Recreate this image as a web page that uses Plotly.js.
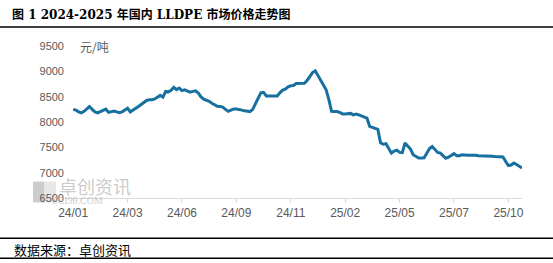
<!DOCTYPE html>
<html>
<head>
<meta charset="utf-8">
<script src="https://cdn.plot.ly/plotly-3.0.1.min.js"></script>
<style>html,body{margin:0;padding:0;background:#fff;}#chart{width:553px;height:263px;}</style>
</head>
<body>
<div id="chart"></div>
<script>
// LLDPE price, yuan/ton, sampled at equal steps along the category axis (20 steps per label interval)
const price = [
8250,8235,8200,8180,8210,8260,8305,8250,8200,8180,
8205,8230,8255,8190,8200,8215,8200,8185,8200,8240,
8270,8200,8230,8260,8305,8345,8380,8425,8440,8440,
8455,8485,8525,8490,8605,8595,8625,8685,8640,8670,
8620,8635,8615,8590,8605,8615,8570,8495,8450,8430,
8410,8370,8335,8310,8305,8295,8250,8210,8235,8255,
8255,8250,8235,8220,8205,8205,8250,8360,8485,8575,
8585,8515,8515,8515,8515,8515,8575,8630,8650,8695,
8715,8720,8760,8765,8765,8765,8820,8905,8975,9010,
8910,8810,8730,8635,8440,8210,8205,8205,8190,8160,
8160,8160,8170,8140,8155,8140,8120,8105,8075,7915,
7900,7880,7855,7590,7560,7570,7485,7385,7425,7445,
7400,7395,7585,7525,7465,7355,7315,7290,7290,7295,
7385,7475,7515,7455,7400,7385,7330,7285,7305,7345,
7375,7335,7335,7355,7345,7345,7345,7350,7345,7335,
7335,7335,7335,7330,7325,7320,7320,7320,7310,7220,
7140,7150,7190,7160,7120,7090
];
const tickLabels = ["24/01","24/03","24/06","24/09","24/11","25/02","25/05","25/07","25/10"];
const labelStep = 20;
const yTicks = [6500,7000,7500,8000,8500,9000,9500];

const xIdx = price.map((_, i) => i);
const tickIdx = tickLabels.map((_, i) => i * labelStep);

// pixel helpers for decorations (plot area: l=65, t=46, w=457, h=152.5)
const L = 65, T = 46, W = 457, H = 152.5;
const px = x => (x - L) / W;
const py = y => (T + H - y) / H;

const trace = {
  x: xIdx, y: price, type: 'scatter', mode: 'lines',
  line: {color: '#17709f', width: 3},
  hoverinfo: 'skip'
};

const layout = {
  width: 553, height: 263,
  margin: {l: L, r: 553 - L - W, t: T, b: 263 - T - H},
  paper_bgcolor: '#fff', plot_bgcolor: 'rgba(0,0,0,0)',
  showlegend: false,
  xaxis: {
    type: 'linear', range: [-3, 165], showgrid: false, zeroline: false,
    showline: true, linecolor: '#d9d9d9', linewidth: 1,
    tickmode: 'array', tickvals: tickIdx, ticktext: tickLabels,
    ticks: 'outside', ticklen: 4, tickcolor: '#d9d9d9',
    tickfont: {family: 'Liberation Sans, Arial, sans-serif', size: 12, color: '#595959'}
  },
  yaxis: {
    range: [6500, 9500], showgrid: false, zeroline: false, showline: false,
    tickmode: 'array', tickvals: yTicks, ticks: '',
    tickfont: {family: 'Liberation Sans, Arial, sans-serif', size: 11, color: '#595959'}
  },
  shapes: [
    {type: 'line', xref: 'paper', yref: 'paper', x0: px(0), x1: px(553), y0: py(27), y1: py(27), line: {color: '#000', width: 1.5}},
    {type: 'line', xref: 'paper', yref: 'paper', x0: px(0), x1: px(553), y0: py(239), y1: py(239), line: {color: '#000', width: 1.5}},
    {type: 'line', xref: 'paper', yref: 'paper', x0: px(0), x1: px(553), y0: py(259), y1: py(259), line: {color: '#000', width: 1.5}},
    {type: 'rect', xref: 'paper', yref: 'paper', x0: px(33), x1: px(44), y0: py(203), y1: py(182), line: {width: 0}, fillcolor: 'rgba(170,170,170,0.6)', layer: 'below'},
    {type: 'rect', xref: 'paper', yref: 'paper', x0: px(44), x1: px(56), y0: py(203), y1: py(182), line: {width: 0}, fillcolor: 'rgba(215,215,215,0.6)', layer: 'below'}
  ],
  annotations: [
    {text: '<b>图 1 2024-2025 年国内 LLDPE 市场价格走势图</b>', xref: 'paper', yref: 'paper', x: px(10), y: py(14), xanchor: 'left', yanchor: 'middle', showarrow: false,
     font: {family: 'DejaVu Serif, Noto Sans CJK SC, serif', size: 12, color: '#000'}},
    {text: '元/吨', xref: 'paper', yref: 'paper', x: px(78), y: py(47), xanchor: 'left', yanchor: 'middle', showarrow: false,
     font: {family: 'Noto Sans CJK SC, sans-serif', size: 12, color: '#595959'}},
    {text: '卓创资讯', xref: 'paper', yref: 'paper', x: px(57), y: py(186), xanchor: 'left', yanchor: 'middle', showarrow: false,
     font: {family: 'Noto Sans CJK SC, sans-serif', size: 18, color: 'rgba(180,180,180,0.7)'}},
    {text: 'SCI99.COM', xref: 'paper', yref: 'paper', x: px(50), y: py(201), xanchor: 'left', yanchor: 'middle', showarrow: false,
     font: {family: 'Liberation Serif, serif', size: 10, color: 'rgba(180,180,180,0.7)'}},
    {text: '数据来源：卓创资讯', xref: 'paper', yref: 'paper', x: px(12), y: py(250), xanchor: 'left', yanchor: 'middle', showarrow: false,
     font: {family: 'Noto Sans CJK SC, sans-serif', size: 13, color: '#000'}}
  ]
};

Plotly.newPlot('chart', [trace], layout, {displayModeBar: false, staticPlot: true});
</script>
</body>
</html>
